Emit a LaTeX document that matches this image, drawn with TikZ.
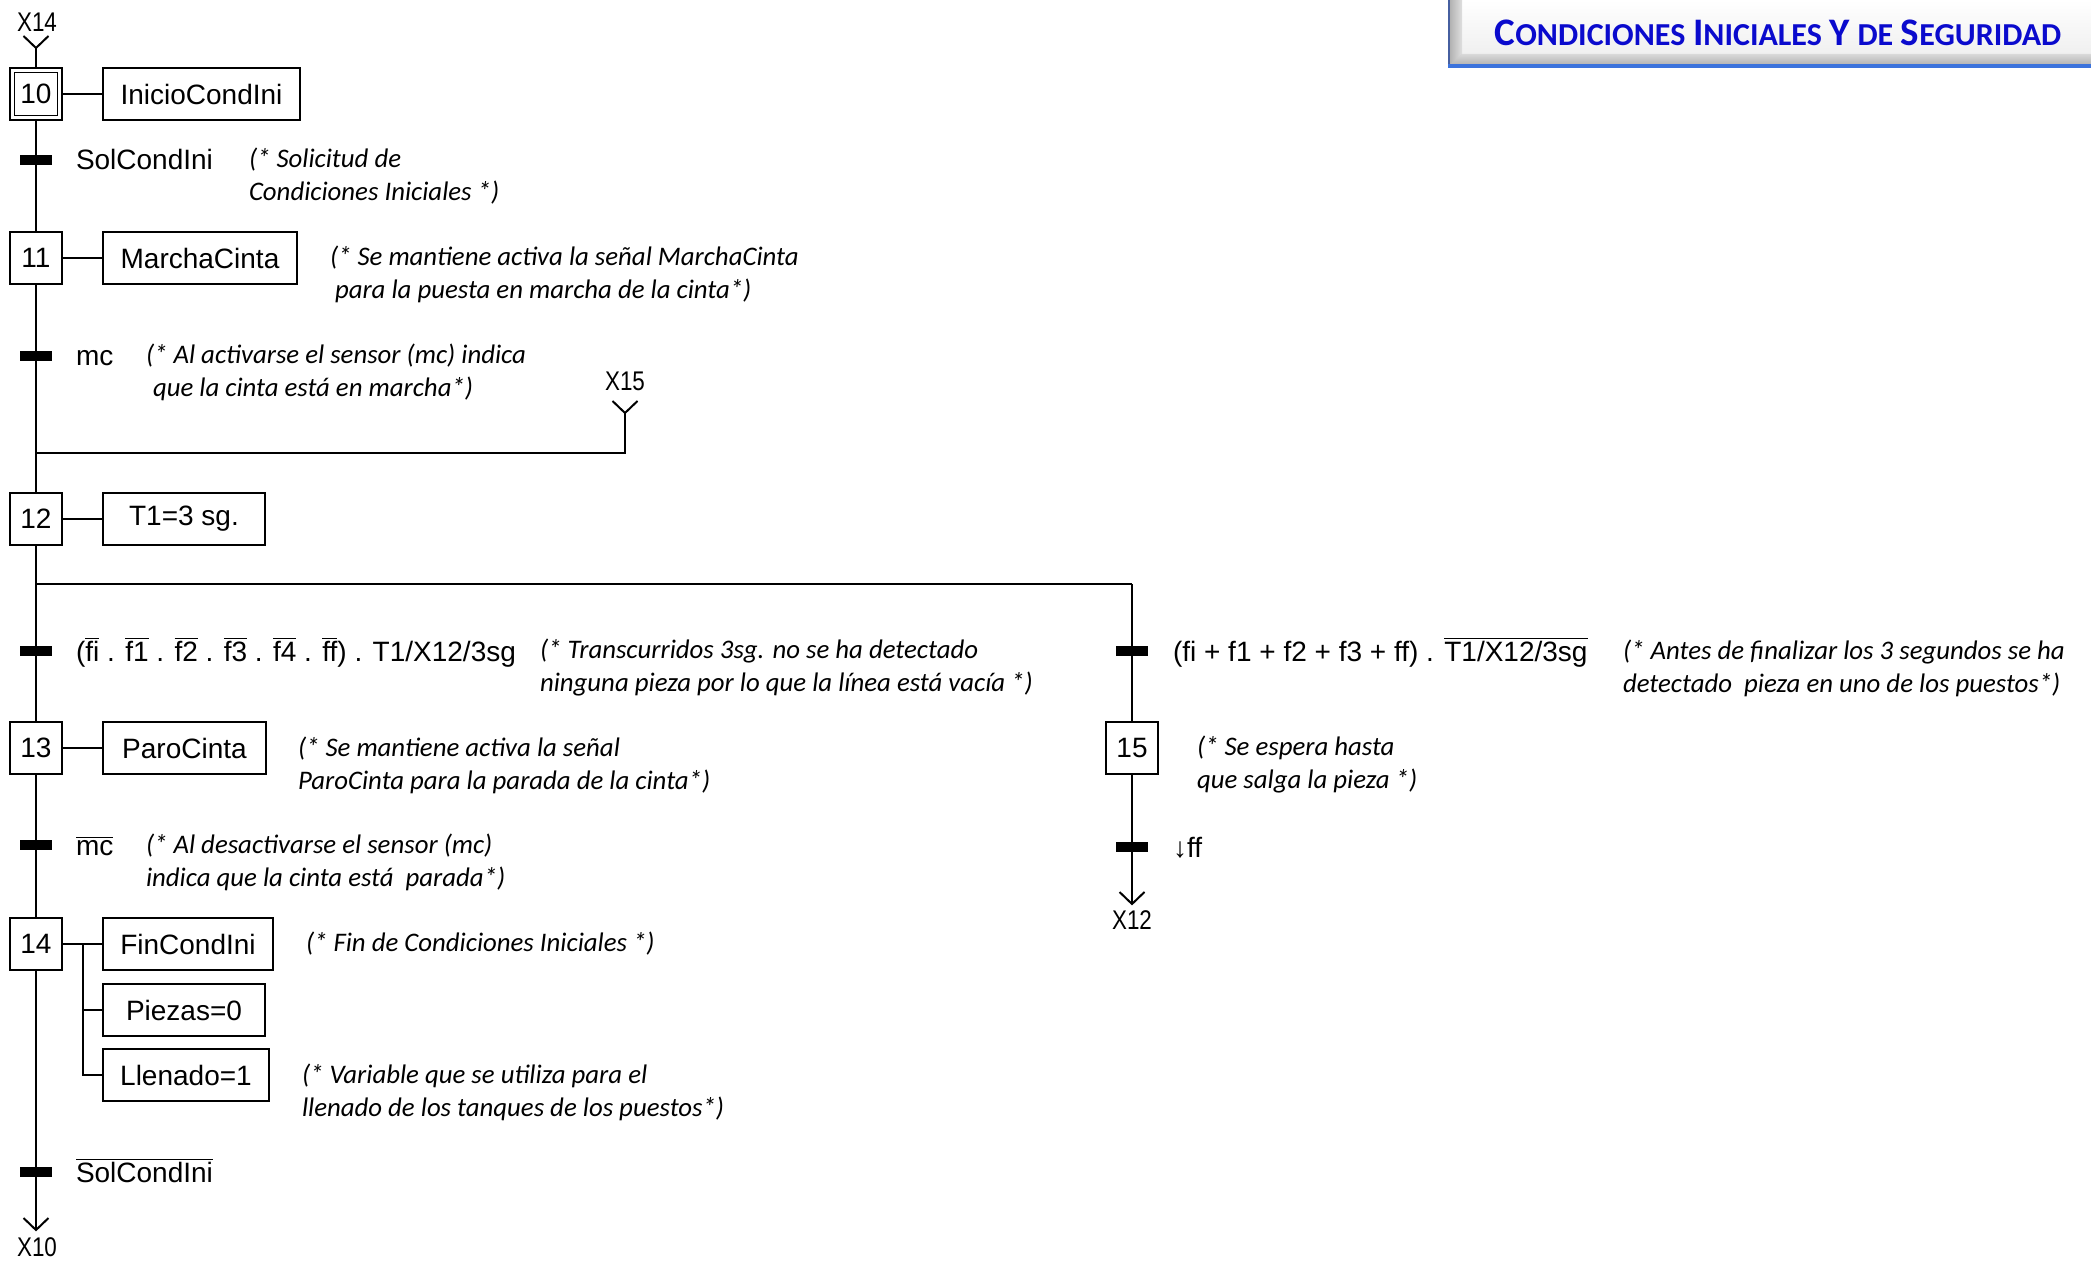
\documentclass[tikz,border=0pt]{standalone}
\usepackage{fontspec}
\usepackage{graphicx}
\setmainfont{Liberation Sans}[Ligatures=NoCommon]
\newfontfamily\cmtfont{Carlito}
\newfontfamily\ttlfont{Carlito}

\definecolor{ttlblue}{RGB}{10,10,205}
\definecolor{edgeblue}{RGB}{60,115,220}
\definecolor{edgedark}{RGB}{70,95,160}

% negated signal: overline over a text item
\newcommand\negd[1]{\ensuremath{\overline{\mbox{#1}}}}
% faked small caps for the heading
\newcommand\capA[1]{{\fontsize{19.5}{22}\selectfont #1}}
\newcommand\capB[1]{{\fontsize{16}{22}\selectfont #1}}
% narrow reference labels
\newcommand\narrow[1]{\scalebox{0.83}[1]{#1}}

\tikzset{
  stepbox/.style={draw, line width=1pt, minimum width=26pt, minimum height=26pt,
    inner sep=0pt, font=\fontsize{14}{16}\selectfont},
  actbox/.style={draw, line width=1pt, minimum height=26pt, anchor=west,
    inner sep=0pt, font=\fontsize{14}{16}\selectfont},
  trbar/.style={fill=black, minimum width=16pt, minimum height=5pt, inner sep=0pt},
  trlabel/.style={anchor=base west, inner sep=0pt, font=\fontsize{14}{16}\selectfont},
  cmt/.style={anchor=west, inner sep=0pt, align=left,
    font=\cmtfont\itshape\fontsize{13.4}{16.5}\selectfont},
  xref/.style={inner sep=0pt, font=\fontsize{13.5}{15}\selectfont},
  vtip/.pic={\draw[line width=1pt] (-12.5,-12) -- (0,0) -- (12.5,-12);}
}

\begin{document}
\begin{tikzpicture}[x=0.5pt, y=-0.5pt, line width=1pt]
\useasboundingbox (0,0) rectangle (2091,1261);

% ---- heading plate ----
\fill[gray!45] (1448,0) rectangle (2091,67);
\shade[top color=white, bottom color=gray!12] (1462,0) rectangle (2091,54);
\shade[left color=gray!60, right color=gray!25] (1450,0) -- (1462,0) -- (1462,54) -- (1450,65) -- cycle;
\shade[top color=gray!30, bottom color=gray!60] (1450,65) -- (1462,54) -- (2091,54) -- (2091,65) -- cycle;
\draw[edgedark, line width=1pt] (1449,0) -- (1449,67);
\draw[edgeblue, line width=2pt] (1448,66) -- (2091,66);
\node[font=\ttlfont\bfseries\fontsize{17}{22}\selectfont, text=ttlblue, inner sep=0pt] (ttl) at (1778,33)
  {\capA{C}\capB{ONDICIONES} \capA{I}\capB{NICIALES} \capA{Y} \capB{DE} \capA{S}\capB{EGURIDAD}};

% ---- entry from X14 ----
\node[xref] (x14) at (37,22) {\narrow{X14}};
\coordinate (x14tip) at (36,48);
\pic at (x14tip) {vtip};

% ---- step 10 ----
\node[stepbox] (s10) at (36,94) {10};
\node[draw, line width=0.8pt, minimum size=21.5pt, inner sep=0pt] (s10in) at (s10) {};
\node[actbox, minimum width=98.5pt] (a10) at (102,94) {InicioCondIni};
\draw (x14tip) -- (s10);
\draw (s10) -- (a10);

\node[trbar] (t1) at (36,160) {};
\node[trlabel] (t1l) at (75,170) {SolCondIni};
\node[cmt] (c1) at (248,176) {(* Solicitud de\\Condiciones Iniciales *)};

% ---- step 11 ----
\node[stepbox] (s11) at (36,258) {11};
\node[actbox, minimum width=97pt] (a11) at (102,258) {MarchaCinta};
\draw (s11) -- (a11);
\node[cmt] (c2) at (329,274) {(* Se mantiene activa la señal MarchaCinta\\\hspace*{2.5pt}para la puesta en marcha de la cinta*)};
\draw (s10) -- (s11);

\node[trbar] (t2) at (36,356) {};
\node[trlabel] (t2l) at (75,366) {mc};
\node[cmt] (c3) at (145,372) {(* Al activarse el sensor (mc) indica\\\hspace*{3.5pt}que la cinta está en marcha*)};

% ---- entry from X15 ----
\node[xref] (x15) at (625,381) {\narrow{X15}};
\coordinate (x15tip) at (625,413);
\pic at (x15tip) {vtip};
\coordinate (j15) at (36,453);
\draw (x15tip) |- (j15);

% ---- step 12 ----
\node[stepbox] (s12) at (36,519) {12};
\node[actbox, minimum width=81pt] (a12) at (102,519) {T1=3 sg.};
\draw (s12) -- (a12);
\draw (s11) -- (s12);

% selection of sequences
\coordinate (jd) at (36,584);
\coordinate (jdr) at (1132,584);
\draw (s12) -- (jd) -- (jdr);

\node[trbar] (t3) at (36,651) {};
\node[trlabel] (t3l) at (75,661) {(\negd{fi} . \negd{f1} . \negd{f2} . \negd{f3} . \negd{f4} . \negd{ff}) . T1/X12/3sg};
\node[cmt] (c4) at (539,668) {(* Transcurridos 3sg. no se ha detectado\\ninguna pieza por lo que la línea está vacía *)};

\node[trbar] (t4) at (1132,651) {};
\node[trlabel] (t4l) at (1172,661) {(fi + f1 + f2 + f3 + ff) . \negd{T1/X12/3sg}};
\node[cmt] (c5) at (1622,668) {(* Antes de finalizar los 3 segundos se ha\\detectado\ \ pieza en uno de los puestos*)};

% ---- step 13 ----
\node[stepbox] (s13) at (36,748) {13};
\node[actbox, minimum width=81.5pt] (a13) at (102,748) {ParoCinta};
\draw (s13) -- (a13);
\draw (jd) -- (s13);
\node[cmt] (c6) at (297,765) {(* Se mantiene activa la señal\\ParoCinta para la parada de la cinta*)};

\node[trbar] (t5) at (36,845) {};
\node[trlabel] (t5l) at (75,855) {\negd{mc}};
\node[cmt] (c8) at (145,862) {(* Al desactivarse el sensor (mc)\\indica que la cinta está\ \ parada*)};

% ---- step 15 ----
\node[stepbox] (s15) at (1132,748) {15};
\draw (jdr) -- (s15);
\node[cmt] (c7) at (1196,765) {(* Se espera hasta\\que salga la pieza *)};

\node[trbar] (t6) at (1132,847) {};
\node[trlabel] (t6l) at (1172,857) {↓ff};
\coordinate (x12tip) at (1132,904);
\draw (s15) -- (x12tip);
\pic at (x12tip) {vtip};
\node[xref] (x12) at (1132,920) {\narrow{X12}};

% ---- step 14 ----
\node[stepbox] (s14) at (36,944) {14};
\draw (s13) -- (s14);
\node[actbox, minimum width=85pt] (a14a) at (102,944) {FinCondIni};
\node[actbox, minimum width=81pt] (a14b) at (102,1010) {Piezas=0};
\node[actbox, minimum width=83pt] (a14c) at (102,1075) {Llenado=1};
\coordinate (br14) at (83,944);
\draw (s14) -- (a14a);
\draw (br14) |- (a14b);
\draw (br14) |- (a14c);
\node[cmt] (c9) at (305,944) {(* Fin de Condiciones Iniciales *)};
\node[cmt] (c10) at (301,1092) {(* Variable que se utiliza para el\\llenado de los tanques de los puestos*)};

\node[trbar] (t7) at (36,1172) {};
\node[trlabel] (t7l) at (75,1182) {\negd{SolCondIni}};

% ---- exit to X10 ----
\coordinate (x10tip) at (36,1230);
\draw (s14) -- (x10tip);
\pic at (x10tip) {vtip};
\node[xref] (x10) at (37,1247) {\narrow{X10}};
\end{tikzpicture}
\end{document}
